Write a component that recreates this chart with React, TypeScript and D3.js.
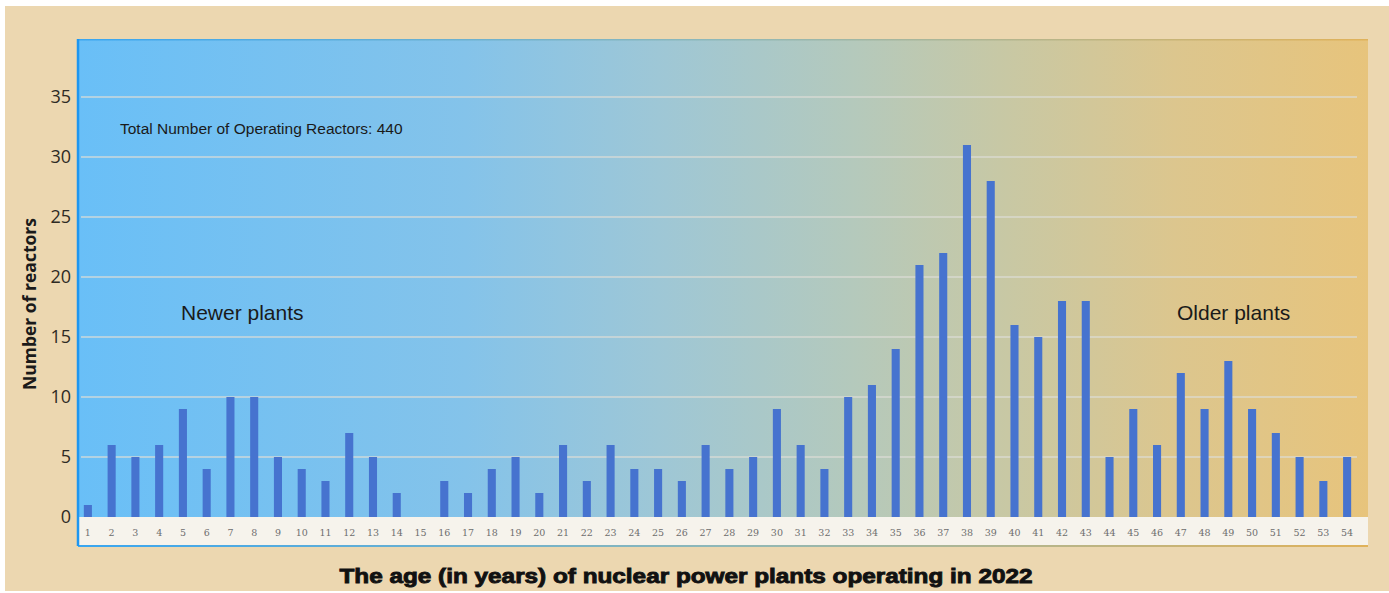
import { useRef, useEffect } from 'react';
import * as d3 from 'd3';

const ages = d3.range(1, 55).map(String);
const reactors = [
  1, 6, 5, 6, 9, 4, 10, 10, 5, 4, 3, 7, 5, 2, 0, 3, 2, 4, 5, 2,
  6, 3, 6, 4, 4, 3, 6, 4, 5, 9, 6, 4, 10, 11, 14, 21, 22, 31, 28, 16,
  15, 18, 18, 5, 9, 6, 12, 9, 13, 9, 7, 5, 3, 5,
];
const yTicks = [0, 5, 10, 15, 20, 25, 30, 35];

const W = 1389;
const H = 593;

export default function App() {
  const ref = useRef<SVGSVGElement>(null);

  useEffect(() => {
    if (!ref.current) return;
    const svg = d3.select(ref.current);
    svg.selectAll('*').remove();

    const plot = { left: 78, right: 1368, top: 40, zero: 517, bottom: 546 };

    const x = d3.scaleBand().domain(ages).range([76, 1359]).paddingInner(0.66).paddingOuter(0.33);
    const y = d3.scaleLinear().domain([0, 35]).range([plot.zero, 97]);

    const defs = svg.append('defs');
    const grad = defs.append('linearGradient').attr('id', 'bg').attr('x1', '0').attr('x2', '1').attr('y1', '0').attr('y2', '0');
    [
      [0, '#69bff7'],
      [0.3, '#84c3ea'],
      [0.45, '#9ec7d6'],
      [0.6, '#b4c9bc'],
      [0.72, '#c8c8a4'],
      [0.85, '#dcc68e'],
      [1, '#e7c47c'],
    ].forEach(([o, c]) => grad.append('stop').attr('offset', o as number).attr('stop-color', c as string));

    const edge = defs.append('linearGradient').attr('id', 'edge').attr('x1', '0').attr('x2', '1');
    [
      [0, '#3aa6f0'],
      [0.5, '#8fb8b8'],
      [1, '#e0b25a'],
    ].forEach(([o, c]) => edge.append('stop').attr('offset', o as number).attr('stop-color', c as string));

    // outer background
    svg.append('rect').attr('width', W).attr('height', H).attr('fill', '#ffffff');
    svg.append('rect').attr('x', 5).attr('y', 6).attr('width', W - 5).attr('height', H - 8).attr('fill', '#ecd7b0');

    // plot area
    svg.append('rect')
      .attr('x', plot.left).attr('y', plot.top)
      .attr('width', plot.right - plot.left).attr('height', plot.zero - plot.top)
      .attr('fill', 'url(#bg)');

    // tick label band
    svg.append('rect')
      .attr('x', plot.left).attr('y', plot.zero)
      .attr('width', plot.right - plot.left).attr('height', plot.bottom - plot.zero)
      .attr('fill', '#f6f3ec');

    // borders
    svg.append('rect')
      .attr('x', plot.left).attr('y', plot.top - 1)
      .attr('width', plot.right - plot.left).attr('height', 1.5)
      .attr('fill', 'url(#edge)');
    svg.append('rect')
      .attr('x', plot.left).attr('y', plot.bottom - 1)
      .attr('width', plot.right - plot.left).attr('height', 2)
      .attr('fill', 'url(#edge)');
    svg.append('line')
      .attr('x1', plot.left).attr('x2', plot.left)
      .attr('y1', plot.top - 1).attr('y2', plot.bottom)
      .attr('stroke', '#1e96f0').attr('stroke-width', 2.5);

    // gridlines
    svg.append('g')
      .selectAll('line')
      .data(yTicks.filter((d) => d > 0))
      .join('line')
      .attr('x1', 81).attr('x2', 1357)
      .attr('y1', (d) => y(d)).attr('y2', (d) => y(d))
      .attr('stroke', '#dcdcd6').attr('stroke-opacity', 0.85).attr('stroke-width', 1.5);

    // y tick labels
    svg.append('g')
      .selectAll('text')
      .data(yTicks)
      .join('text')
      .attr('x', 71)
      .attr('y', (d) => y(d))
      .attr('dy', '0.35em')
      .attr('text-anchor', 'end')
      .attr('font-family', 'Open Sans, sans-serif')
      .attr('font-size', 18)
      .attr('fill', '#2e2a24')
      .text((d) => d);

    // bars
    svg.append('g')
      .selectAll('rect')
      .data(reactors)
      .join('rect')
      .attr('x', (_, i) => x(ages[i])!)
      .attr('y', (d) => y(d))
      .attr('width', x.bandwidth())
      .attr('height', (d) => plot.zero - y(d))
      .attr('fill', '#4673cf');

    // x tick labels
    svg.append('g')
      .selectAll('text')
      .data(ages)
      .join('text')
      .attr('x', (d) => x(d)! + x.bandwidth() / 2)
      .attr('y', 533)
      .attr('dy', '0.35em')
      .attr('text-anchor', 'middle')
      .attr('font-family', 'DejaVu Serif, serif')
      .attr('font-size', 9.5)
      .attr('fill', '#6e6e6e')
      .text((d) => d);

    // annotations
    svg.append('text')
      .attr('x', 120).attr('y', 134)
      .attr('font-family', 'Liberation Sans, Arial, sans-serif')
      .attr('font-size', 15.5)
      .attr('fill', '#1a1a1a')
      .text('Total Number of Operating Reactors: 440');

    svg.append('text')
      .attr('x', 181).attr('y', 320)
      .attr('font-family', 'Liberation Sans, Arial, sans-serif')
      .attr('font-size', 21)
      .attr('fill', '#1a1a1a')
      .text('Newer plants');

    svg.append('text')
      .attr('x', 1177).attr('y', 320)
      .attr('font-family', 'Liberation Sans, Arial, sans-serif')
      .attr('font-size', 21)
      .attr('fill', '#1a1a1a')
      .text('Older plants');

    // axis titles
    svg.append('text')
      .attr('transform', `translate(36, ${304}) rotate(-90)`)
      .attr('text-anchor', 'middle')
      .attr('font-family', 'Open Sans, sans-serif')
      .attr('font-weight', 'bold')
      .attr('font-size', 17.5)
      .attr('fill', '#1a1a1a')
      .text('Number of reactors');

    svg.append('text')
      .attr('x', 686).attr('y', 583)
      .attr('text-anchor', 'middle')
      .attr('font-family', 'Liberation Sans, Arial, sans-serif')
      .attr('font-weight', 'bold')
      .attr('font-size', 20.5)
      .attr('fill', '#111')
      .attr('stroke', '#111')
      .attr('stroke-width', 0.9)
      .attr('textLength', 693)
      .attr('lengthAdjust', 'spacingAndGlyphs')
      .text('The age (in years) of nuclear power plants operating in 2022');
  }, []);

  return (
    <svg
      ref={ref}
      width={W}
      height={H}
      style={{ position: 'absolute', left: 0, top: 0, display: 'block' }}
    />
  );
}
